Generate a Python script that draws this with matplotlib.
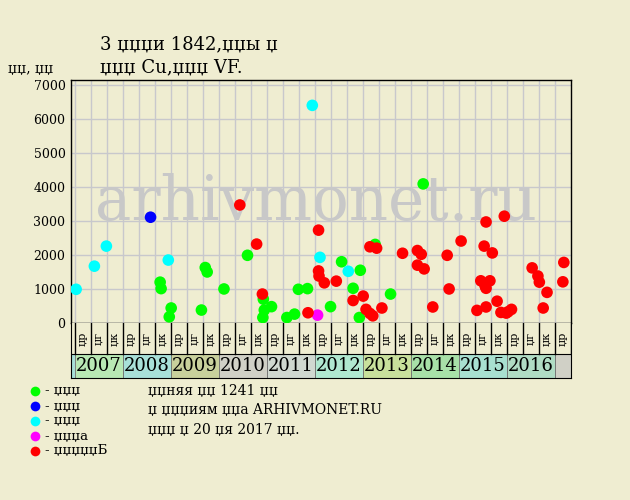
import matplotlib.pyplot as plt
from matplotlib.patches import Rectangle
from matplotlib.lines import Line2D

plt.rcParams['font.family'] = ['DejaVu Serif']

bg = '#efedd1'

# годы и подписи колонок
years = [2007, 2008, 2009, 2010, 2011, 2012, 2013, 2014, 2015, 2016]
year_colors = ['#b8e8b4', '#a8e0d8', '#c8d09c', '#d0d0c6', '#d0d8d0',
               '#b0e8d0', '#c8e09c', '#a8e0a8', '#a8e0d0', '#b0dcc4']
sub_labels = ['џр', 'џг', 'џк']

# данные (дата в долях года, цена)
green_t = [2008.78, 2008.80, 2009.01, 2008.97, 2009.64, 2009.72, 2009.76, 2010.11,
           2010.60, 2010.93, 2010.95, 2011.10, 2010.92, 2011.42, 2011.58, 2011.66,
           2011.85, 2012.33, 2012.56, 2012.80, 2012.93, 2012.95, 2013.26, 2013.58,
           2014.26]
green_p = [1210, 1020, 450, 190, 390, 1640, 1510, 1010,
           2000, 710, 390, 490, 170, 170, 270, 1000,
           1020, 490, 1810, 1030, 170, 1560, 2320, 860,
           4100]

blue_t = [2008.58]
blue_p = [3120]

cyan_t = [2007.03, 2007.41, 2007.66, 2008.95, 2011.95, 2012.11, 2012.70]
cyan_p = [1000, 1680, 2270, 1860, 6410, 1940, 1530]

magenta_t = [2012.06]
magenta_p = [240]

red_t = [2010.44, 2010.79, 2010.91, 2011.86, 2012.08, 2012.08, 2012.09, 2012.20,
         2012.45, 2012.80, 2013.01, 2013.07, 2013.15, 2013.21, 2013.15, 2013.29,
         2013.40, 2013.83, 2014.14, 2014.22, 2014.14, 2014.28, 2014.46, 2014.76,
         2014.80, 2015.05, 2015.38, 2015.46, 2015.53, 2015.57, 2015.57, 2015.55,
         2015.65, 2015.57, 2015.70, 2015.80, 2015.88, 2015.99, 2016.10, 2016.03,
         2015.95, 2016.53, 2016.65, 2016.68, 2016.84, 2016.76, 2017.19, 2017.17]
red_p = [3480, 2330, 860, 310, 2740, 1540, 1390, 1190,
         1240, 670, 800, 410, 290, 220, 2250, 2210,
         450, 2060, 2140, 2030, 1710, 1600, 480, 2000,
         1010, 2420, 380, 1250, 2270, 2980, 480, 1100,
         1250, 1030, 2070, 650, 320, 300, 410, 340,
         3150, 1630, 1390, 1210, 910, 450, 1790, 1220]

series = [
    (green_t, green_p, '#00ff00', '- џџџ'),
    (blue_t, blue_p, '#0000ff', '- џџџ'),
    (cyan_t, cyan_p, '#00ffff', '- џџџ'),
    (magenta_t, magenta_p, '#ff00ff', '- џџџа'),
    (red_t, red_p, '#ff0000', '- џџџџџБ'),
]

W, H = 630, 500
fig = plt.figure(figsize=(6.3, 5.0), dpi=100, facecolor=bg)

# основной график
ax = fig.add_axes([71 / W, 1 - 323.3 / H, (570.7 - 71) / W, (323.3 - 80.3) / H])
ax.set_facecolor(bg)
x0 = 2007 - 3.7 / 48
x1 = 2017 + 1 / 3
ax.set_xlim(x0, x1)
ax.set_ylim(0, 7147)
ax.set_xticks([2007 + k / 3 for k in range(31)])
ax.set_xticklabels([])
ax.set_yticks(range(0, 7001, 1000))
ax.tick_params(axis='x', length=0)
ax.tick_params(axis='y', length=0, pad=4, labelsize=9)
ax.set_axisbelow(True)
ax.grid(True, color='#c8c8cc', lw=1)
for s in ax.spines.values():
    s.set_color('black')
    s.set_linewidth(1)

ax.text(316 / W, 1 - 220 / H, 'arhivmonet.ru', transform=fig.transFigure,
        fontsize=44, color='#c8c8c8', ha='center', va='baseline', zorder=1)

for t, p, c, lab in series:
    ax.scatter(t, p, s=70, color=c, edgecolors='none', zorder=3)

# таблица под графиком
tx = fig.add_axes([71 / W, 1 - 378 / H, (570.7 - 71) / W, (378 - 323.3) / H])
tx.set_facecolor(bg)
tx.set_xlim(x0, x1)
tx.set_ylim(0, 1)
tx.set_xticks([])
tx.set_yticks([])
tx.spines['top'].set_visible(False)
split = 24 / 54.7
tx.add_patch(Rectangle((x0, 0), 2007 - x0, split, fc='#a8e0d8', ec='none'))
for y, c in zip(years, year_colors):
    tx.add_patch(Rectangle((y, 0), 1, split, fc=c, ec='#707070', lw=0.6))
    tx.text(y + 0.5, split / 2, str(y), fontsize=13, ha='center', va='center')
tx.add_patch(Rectangle((2017, 0), 1 / 3, split, fc='#d0d0c6', ec='#707070', lw=0.6))
tx.axhline(split, color='black', lw=0.8)
for k in range(32):
    tx.plot([2007 + k / 3] * 2, [split, 1], color='black', lw=1)
for k in range(31):
    tx.text(2007 + (k + 0.5) / 3, (split + 1) / 2, sub_labels[k % 3], fontsize=8,
            rotation=90, ha='center', va='center')

# заголовок
fig.text(100 / W, 1 - 44 / H, '3 џџџи 1842,џџы џ', fontsize=13, va='center')
fig.text(100 / W, 1 - 67 / H, 'џџџ Cu,џџџ VF.', fontsize=13, va='center')
fig.text(8 / W, 1 - 69 / H, 'џџ, џџ', fontsize=10, va='center')

# легенда
for i, (t, p, c, lab) in enumerate(series):
    yy = 1 - (391 + 15 * i) / H
    fig.add_artist(Line2D([35 / W], [yy], marker='o', color=c, markersize=7,
                          markeredgewidth=0, transform=fig.transFigure))
    fig.text(45 / W, yy, lab, fontsize=9.5, va='center')

notes = ['џџняя џџ 1241 џџ', 'џ џџџиям џџа ARHIVMONET.RU', 'џџџ џ 20 џя 2017 џџ.']
for i, n in enumerate(notes):
    fig.text(148 / W, 1 - (391 + 19.5 * i) / H, n, fontsize=10, va='center')

fig.savefig('out.png', dpi=100, facecolor=bg)
